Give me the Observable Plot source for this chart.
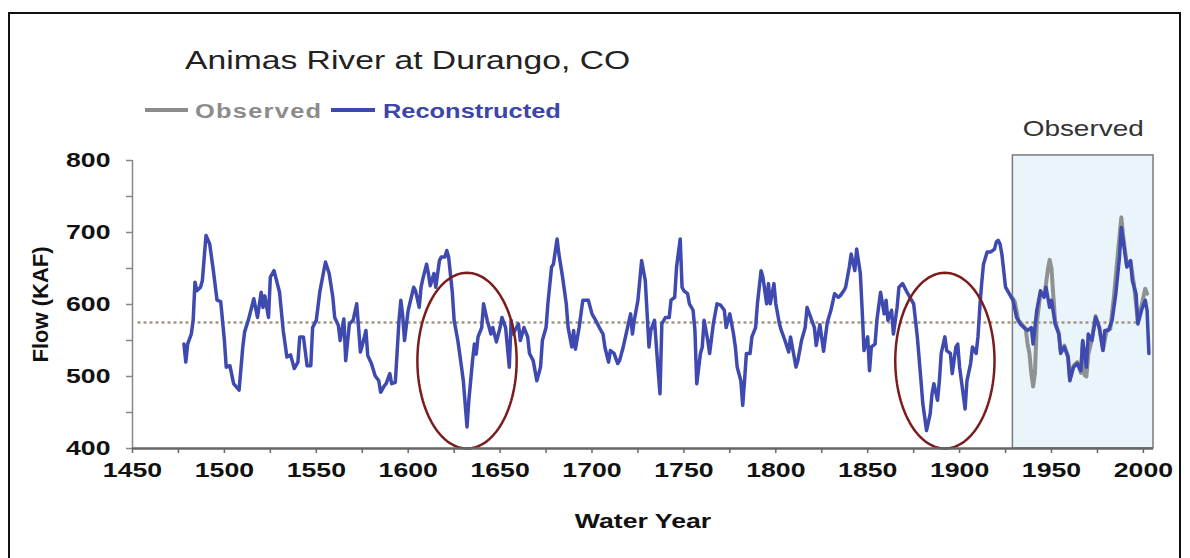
<!DOCTYPE html>
<html>
<head>
<meta charset="utf-8">
<script src="https://cdn.jsdelivr.net/npm/d3@7"></script>
<script src="https://cdn.jsdelivr.net/npm/@observablehq/plot@0.6"></script>
<style>
  body { margin: 0; background: #fff; font-family: "Liberation Sans", Arial, sans-serif; }
  #wrap { position: relative; width: 1190px; height: 558px; overflow: hidden; background: #fff; }
  #chart { position: absolute; left: 0; top: 0; }
  #frame { position: absolute; left: 8px; top: 12px; width: 1173px; height: 620px; border: 2px solid #111; box-sizing: border-box; pointer-events: none; }
  .t { position: absolute; white-space: nowrap; transform-origin: 0 0; transform: scaleX(1.27); line-height: 1; }
  .sw { position: absolute; height: 4px; }
</style>
</head>
<body>
<div id="wrap">
  <div id="chart"></div>
  <div class="t" style="left:185px;top:47px;font-size:26.5px;color:#222;">Animas River at Durango, CO</div>
  <div class="sw" style="left:145px;top:108px;width:43px;background:#8c8c8c;"></div>
  <div class="t" style="left:195px;top:101px;font-size:20px;font-weight:bold;color:#8c8c8c;letter-spacing:1px;">Observed</div>
  <div class="sw" style="left:331px;top:108px;width:44px;background:#3d49ad;"></div>
  <div class="t" style="left:383px;top:101px;font-size:20px;font-weight:bold;color:#3c45a8;">Reconstructed</div>
  <div id="frame"></div>
</div>
<script>
// ---------- data ----------
const reconYears = [1478,1479,1480,1482,1483,1484,1485,1487,1488,1490,1492,1494,1496,1498,1500,1501,1503,1505,1508,1510,
1511,1513,1516,1518,1520,1521,1522,1524,1525,1527,1530,1532,1534,1536,1538,1540,1541,1543,1545,1547,
1548,1550,1552,1555,1557,1559,1560,1562,1563,1565,1566,1568,1570,1572,1573,1574,1575,1577,1578,1580,
1582,1584,1585,1587,1588,1590,1591,1593,1595,1596,1597,1598,1600,1603,1604,1606,1607,1608,1610,1611,
1612,1614,1615,1617,1618,1620,1621,1622,1624,1625,1627,1628,1630,1632,1633,1635,1636,1637,1638,1640,
1641,1643,1645,1646,1648,1650,1651,1653,1655,1656,1657,1660,1661,1663,1665,1666,1668,1670,1672,1673,
1675,1676,1678,1679,1681,1682,1684,1686,1687,1689,1690,1691,1693,1695,1696,1698,1700,1702,1704,1706,
1707,1709,1710,1712,1714,1715,1717,1719,1721,1722,1723,1725,1727,1729,1730,1731,1732,1734,1736,1737,
1738,1740,1742,1743,1745,1746,1748,1749,1750,1752,1753,1755,1756,1757,1759,1760,1761,1763,1764,1766,
1768,1770,1772,1773,1775,1777,1778,1779,1781,1782,1783,1784,1786,1787,1789,1790,1792,1793,1795,1796,
1797,1799,1800,1802,1803,1805,1807,1808,1810,1811,1812,1814,1816,1817,1819,1821,1822,1824,1826,1828,
1830,1832,1834,1835,1837,1838,1840,1841,1843,1844,1846,1847,1848,1850,1851,1852,1854,1855,1857,1859,
1860,1861,1863,1864,1866,1867,1869,1871,1873,1875,1877,1879,1880,1882,1884,1885,1886,1888,1889,1890,
1892,1893,1895,1896,1898,1899,1900,1903,1904,1906,1907,1909,1910,1911,1912,1913,1915,1917,1919,1920,
1921,1922,1923,1925,1927,1929,1931,1933,1935,1937,1939,1940,1942,1944,1946,1947,1949,1950,1952,1954,
1955,1957,1959,1960,1962,1964,1966,1967,1969,1970,1972,1974,1976,1978,1979,1981,1983,1985,1987,1988,
1989,1991,1993,1994,1996,1997,1999,2001,2002,2003];
const reconFlow = [545,520,545,559,578,631,619,624,633,696,684,647,606,604,550,513,515,490,481,541,
562,578,608,582,617,596,612,582,638,647,617,564,527,530,511,520,555,555,515,515,
568,578,619,659,643,610,582,571,550,580,522,573,578,601,568,534,543,564,529,518,
501,494,478,487,490,504,490,492,578,606,585,550,592,624,619,596,624,636,656,643,
626,643,624,661,666,666,675,666,617,578,550,532,494,430,467,522,545,531,555,568,
601,578,559,568,548,568,582,568,513,578,559,573,550,568,555,532,522,494,513,550,
568,601,652,656,691,670,638,601,568,541,564,538,568,606,606,606,587,578,568,559,
541,520,536,532,518,522,541,564,587,559,578,606,661,633,587,541,564,578,508,476,
573,582,582,606,610,652,691,624,619,615,601,592,564,490,532,541,578,550,532,573,
601,599,592,568,587,559,541,513,494,460,494,532,532,555,568,601,647,638,601,629,
601,629,601,573,564,550,534,555,527,513,522,550,568,596,582,568,543,572,535,575,
592,615,610,612,619,624,652,670,647,677,643,592,536,555,508,541,545,578,617,587,
606,578,592,559,596,624,629,619,610,601,555,494,462,425,448,476,490,467,494,532,
555,536,532,504,541,545,513,455,494,518,541,532,555,596,629,656,673,673,677,687,
689,684,670,624,615,606,582,573,568,564,568,545,592,619,610,624,596,606,573,559,
532,541,527,494,513,518,508,550,513,559,550,582,568,536,564,564,578,615,666,707,
689,652,661,633,615,573,592,606,592,532];

const obsYears = [1928,1930,1932,1934,1936,1937,1938,1939,1940,1941,1942,1944,1946,1947,1948,1949,1950,1951,1952,1954,
1955,1957,1959,1960,1962,1964,1966,1967,1968,1969,1970,1972,1974,1976,1978,1980,1982,1984,1986,1988,
1989,1991,1993,1995,1997,1999,2001,2002];
const obsFlow = [612,604,578,572,566,545,532,505,486,505,575,615,612,628,648,662,650,612,575,560,
535,543,528,497,515,520,505,548,502,500,530,552,584,568,537,564,566,612,668,721,
695,655,660,625,576,598,622,615];

const yTickValues = [400,450,500,550,600,650,700,750,800];
const yTickLabels = [400,500,600,700,800];
const xTickValues = [1450,1475,1500,1525,1550,1575,1600,1625,1650,1675,1700,1725,1750,1775,1800,1825,1850,1875,1900,1925,1950,1975,2000];
const xTickLabels = [1450,1500,1550,1600,1650,1700,1750,1800,1850,1900,1950,2000];
const meanFlow = 575;
const observedPeriod = [1929, 2005.5];
const droughtCenters = [1632, 1892];
const droughtFlow = 522;
const droughtHalfYears = 27;
const droughtHalfFlow = 122;

// ---------- tables ----------
const recon = reconYears.map((y, i) => ({year: y, flow: reconFlow[i]}));
const obs = obsYears.map((y, i) => ({year: y, flow: obsFlow[i]}));
const box = [{x1: observedPeriod[0], x2: observedPeriod[1], y1: 400, y2: 807}];
const ellipses = [];
droughtCenters.forEach((cx, k) => {
  for (let i = 0; i <= 120; i++) {
    const t = (i / 120) * 2 * Math.PI;
    ellipses.push({id: k, x: cx + droughtHalfYears * Math.cos(t), y: droughtFlow + droughtHalfFlow * Math.sin(t)});
  }
});

const plot = Plot.plot({
  width: 1190,
  height: 558,
  marginTop: 160,
  marginBottom: 110,
  marginLeft: 132,
  marginRight: 37,
  x: {domain: [1450, 2005.5]},
  y: {domain: [400, 800]},
  style: {background: "transparent", fontFamily: "'Liberation Sans', Arial, sans-serif", fontSize: "21px", fontWeight: "bold", color: "#111", overflow: "visible"},
  marks: [
    Plot.rect(box, {x1: "x1", x2: "x2", y1: "y1", y2: "y2", fill: "#eaf4fb", stroke: "#7a7a7a", strokeWidth: 1.5}),
    Plot.ruleY([meanFlow], {x1: 1453, x2: 1998, stroke: "#a09882", strokeWidth: 2.5, strokeDasharray: "3,3"}),
    Plot.line(obs, {x: "year", y: "flow", stroke: "#8e9290", strokeWidth: 4}),
    Plot.line(recon, {x: "year", y: "flow", stroke: "#3f4ab0", strokeWidth: 3.5}),
    Plot.line(ellipses, {x: "x", y: "y", z: "id", stroke: "#7a1c1c", strokeWidth: 2.5}),
    Plot.ruleX([1450], {y1: 400, y2: 800, stroke: "#888", strokeWidth: 1.5}),
    Plot.ruleY([400], {x1: 1450, x2: 2005.5, stroke: "#666", strokeWidth: 2.5}),
    Plot.axisY({ticks: yTickValues, tickSize: 6, tickPadding: 16, stroke: "#888", strokeWidth: 1.5, label: null,
      tickFormat: d => yTickLabels.includes(d) ? String(d) : ""}),
    Plot.axisX({ticks: xTickValues, tickSize: 5, tickPadding: 9, stroke: "#666", strokeWidth: 1.5, label: null,
      tickFormat: d => xTickLabels.includes(d) ? String(d) : ""}),
    Plot.text(["Flow (KAF)"], {frameAnchor: "left", dx: -92, rotate: -90, textAnchor: "middle", fontSize: 22, fontWeight: "bold", fill: "#111"}),
    Plot.text(["Water Year"], {frameAnchor: "bottom", dy: 79, fontSize: 21, fontWeight: "bold", fill: "#111"}),
    Plot.text(["Observed"], {x: () => (observedPeriod[0] + observedPeriod[1]) / 2, y: () => 807, dy: -27, fontSize: 22, fontWeight: "normal", fill: "#333"})
  ]
});
document.getElementById("chart").appendChild(plot);

// horizontal stretch of the reference's text
plot.querySelectorAll("text").forEach(t => {
  const tr = t.getAttribute("transform") || "";
  if (tr.includes("rotate")) return;
  const L = t.getComputedTextLength();
  if (L > 0) {
    t.setAttribute("textLength", (L * 1.27).toFixed(1));
    t.setAttribute("lengthAdjust", "spacingAndGlyphs");
  }
});
</script>
</body>
</html>
